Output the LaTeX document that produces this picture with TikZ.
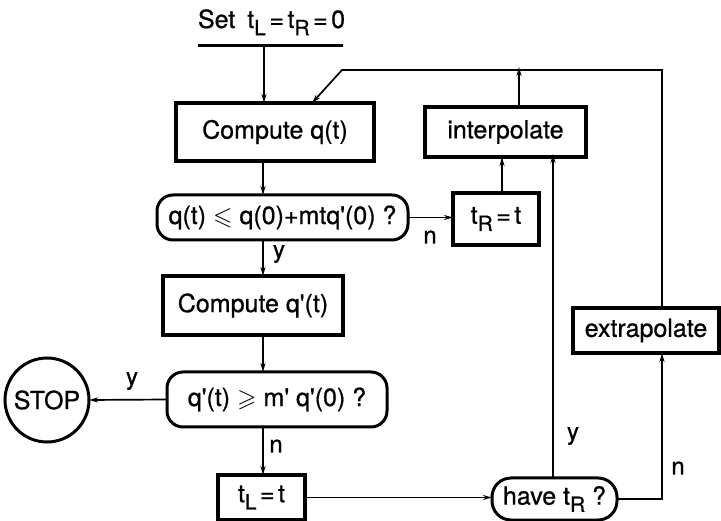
\documentclass[tikz,border=0pt]{standalone}
\usepackage{amssymb}
\usepackage{fontspec}
\setmainfont{TeX Gyre Heros}[FakeBold=0.7]
\usetikzlibrary{arrows.meta}
\newcommand{\lsub}[1]{\raisebox{-0.55ex}{\fontsize{21}{21}\selectfont #1}}
\newcommand{\ap}{\textquotesingle}
\newcommand{\eqs}{\hspace{3.5pt}=\hspace{3.5pt}}
\begin{document}
\begin{tikzpicture}[x=1pt,y=-1pt,
  every node/.style={font=\fontsize{25}{28}\selectfont, inner sep=0pt, outer sep=0pt},
  bbox/.style={draw, line width=3.4pt, rectangle},
  rbox/.style={draw, line width=3pt, rounded corners=16pt},
  conn/.style={line width=1.7pt},
  arr/.style={conn, -{Stealth[length=9pt,width=5pt]}},
  lab/.style={font=\fontsize{24}{26}\selectfont}]
\useasboundingbox (0,0) rectangle (721,521);

% nodes
\node[anchor=base west] (settxt) at (198,28) {Set\hspace{12pt}t\lsub{L}\eqs t\lsub{R}\eqs 0};
\coordinate (sl) at (198,46);
\coordinate (sr) at (343,46);
\coordinate (s) at (264,46);
\draw[line width=3pt] (sl) -- (sr);

\node[bbox, minimum width=198, minimum height=58] (cq) at (275,132) {Compute q(t)};
\node[rbox, minimum width=251, minimum height=45] (q1) at (282.5,217.5)
  {q(t)\hspace{7pt}$\leqslant$\hspace{7pt}q(0)+mtq\ap(0) ?};
\node[bbox, minimum width=86, minimum height=52] (tr) at (496,219) {t\lsub{R}\eqs t};
\node[bbox, minimum width=161, minimum height=50] (interp) at (505.5,132) {interpolate};
\node[bbox, minimum width=180, minimum height=59] (cqp) at (253,305.5) {Compute q\ap(t)};
\node[rbox, minimum width=220, minimum height=55] (q2) at (277,399.5)
  {q\ap(t)\hspace{7pt}$\geqslant$\hspace{7pt}m\ap{} q\ap(0) ?};
\node[draw, line width=3pt, circle, minimum size=84] (stop) at (47,400) {STOP};
\node[bbox, minimum width=87, minimum height=45] (tl) at (261.5,497.5) {t\lsub{L}\eqs t};
\node[rbox, rounded corners=19pt, minimum width=125, minimum height=42] (have) at (554.5,499) {have t\lsub{R} ?};
\node[bbox, minimum width=146, minimum height=45] (extrap) at (646,330.5) {extrapolate};

% helper coordinates
\coordinate (x263) at (263,0);
\coordinate (x502) at (502,0);
\coordinate (x519) at (519,0);
\coordinate (x553) at (553,0);
\coordinate (x662) at (662,0);
\coordinate (topr) at (662,70);
\coordinate (topl) at (342,70);
\coordinate (diag) at (312,103);

% connectors
\draw[arr] (s) -- (s |- cq.north);
\draw[arr] (x263 |- cq.south) -- (x263 |- q1.north);
\draw[arr] (q1.east) -- (q1.east -| tr.west);
\draw[arr] (x502 |- tr.north) -- (x502 |- interp.south);
\draw[arr] (x519 |- interp.north) -- ([yshift=3pt]x519 |- topr);
\draw[arr] (x263 |- q1.south) -- (x263 |- cqp.north);
\draw[arr] (x263 |- cqp.south) -- (x263 |- q2.north);
\draw[arr] (q2.west) -- (stop.east);
\draw[arr] (x263 |- q2.south) -- (x263 |- tl.north);
\draw[arr] (tl.east) -- (tl.east -| have.west);
\draw[arr] (x553 |- have.north) -- ([yshift=3pt]x553 |- interp.south);
\draw[arr] (have.east) -- (have.east -| x662) -- (x662 |- extrap.south);
\draw[arr] (x662 |- extrap.north) -- (topr) -- (topl) -- (diag);

% labels
\node[lab] (ln1) at (430,237) {n};
\node[lab] (ly1) at (279,254) {y};
\node[lab] (ly2) at (132,381) {y};
\node[lab] (ln2) at (276,446) {n};
\node[lab] (ly3) at (573,436) {y};
\node[lab] (ln3) at (678,468) {n};
\end{tikzpicture}
\end{document}
